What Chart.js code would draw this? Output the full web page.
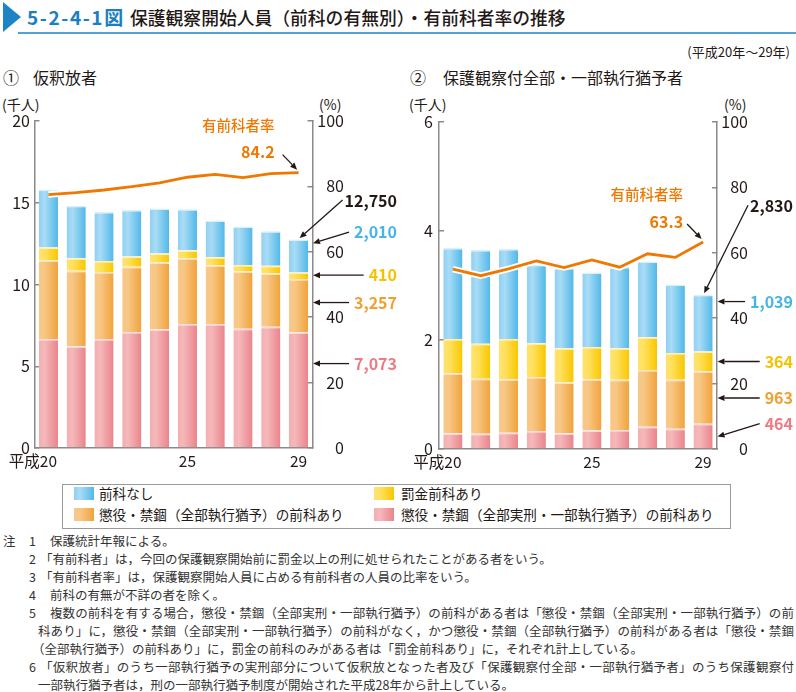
<!DOCTYPE html>
<html><head><meta charset="utf-8">
<script src="https://cdn.jsdelivr.net/npm/chart.js@4.4.1/dist/chart.umd.min.js"></script>
<style>
html,body{margin:0;padding:0;background:#fff}
body{width:796px;height:692px;position:relative;overflow:hidden;font-family:"Noto Sans CJK JP","Noto Sans",sans-serif;color:#231815}
.a{position:absolute;white-space:nowrap}
canvas{position:absolute}
.note{position:absolute;white-space:nowrap;font-size:12.5px;line-height:18px;color:#333}
.just{text-align:justify;text-align-last:justify;white-space:normal;overflow:hidden;height:18px}
.sw{position:absolute;width:20px;height:13px}
.lg{position:absolute;font-size:13.6px;line-height:18px;white-space:nowrap}
</style></head><body>

<!-- title -->
<div class="a" style="left:3px;top:2px;width:0;height:0;border-left:18px solid #1b84c6;border-top:15px solid transparent;border-bottom:15px solid transparent"></div>
<div class="a" style="left:18px;top:32px;width:778px;height:2px;background:#4fa3d6"></div>
<div class="a" style="left:27px;top:5px;font-size:19px;letter-spacing:1.6px;line-height:24px;font-weight:700;color:#1b80c2">5-2-4-1図</div>
<div class="a" style="left:130px;top:5px;font-size:17.8px;line-height:24px;font-weight:500;color:#231815">保護観察開始人員（前科の有無別）・有前科者率の推移</div>
<div class="a" style="right:6px;top:43px;font-size:13px;line-height:18px">(平成20年～29年)</div>

<!-- panel titles -->
<div class="a" style="left:3px;top:66px;font-size:16px;line-height:22px">①</div>
<div class="a" style="left:33px;top:66px;font-size:16px;line-height:22px">仮釈放者</div>
<div class="a" style="left:410px;top:66px;font-size:16px;line-height:22px">②</div>
<div class="a" style="left:443px;top:66px;font-size:16px;line-height:22px">保護観察付全部・一部執行猶予者</div>

<div class="a" style="left:2px;top:95px;font-size:14px;line-height:18px">(千人)</div>
<div class="a" style="left:319px;top:95px;font-size:14px;line-height:18px">(%)</div>
<div class="a" style="left:409px;top:95px;font-size:14px;line-height:18px">(千人)</div>
<div class="a" style="left:724px;top:95px;font-size:14px;line-height:18px">(%)</div>

<canvas id="c1" width="400" height="390" style="left:0;top:90px"></canvas>
<canvas id="c2" width="396" height="390" style="left:400px;top:91px"></canvas>

<!-- legend -->
<div class="a" style="left:62px;top:484px;width:667px;height:43px;border:1px solid #9a9a9a"></div>
<div class="sw" id="sw1" style="left:74px;top:487px"></div>
<div class="lg" style="left:99px;top:484px">前科なし</div>
<div class="sw" id="sw2" style="left:374px;top:487px"></div>
<div class="lg" style="left:401px;top:484px">罰金前科あり</div>
<div class="sw" id="sw3" style="left:74px;top:508px"></div>
<div class="lg" style="left:99px;top:505px">懲役・禁錮（全部執行猶予）の前科あり</div>
<div class="sw" id="sw4" style="left:374px;top:508px"></div>
<div class="lg" style="left:401px;top:505px">懲役・禁錮（全部実刑・一部執行猶予）の前科あり</div>

<!-- notes -->
<div class="note" style="left:3px;top:532px">注</div>
<div class="note" style="left:29px;top:532px">1</div>
<div class="note" style="left:50px;top:532px">保護統計年報による。</div>
<div class="note" style="left:29px;top:550px">2</div>
<div class="note" style="left:40px;top:550px">「有前科者」は，今回の保護観察開始前に罰金以上の刑に処せられたことがある者をいう。</div>
<div class="note" style="left:29px;top:568px">3</div>
<div class="note" style="left:40px;top:568px">「有前科者率」は，保護観察開始人員に占める有前科者の人員の比率をいう。</div>
<div class="note" style="left:29px;top:586px">4</div>
<div class="note" style="left:50px;top:586px">前科の有無が不詳の者を除く。</div>
<div class="note" style="left:29px;top:604px">5</div>
<div class="note just" style="left:50px;top:604px;width:744px">複数の前科を有する場合，懲役・禁錮（全部実刑・一部執行猶予）の前科がある者は「懲役・禁錮（全部実刑・一部執行猶予）の前</div>
<div class="note just" style="left:38px;top:622px;width:756px">科あり」に，懲役・禁錮（全部実刑・一部執行猶予）の前科がなく，かつ懲役・禁錮（全部執行猶予）の前科がある者は「懲役・禁錮</div>
<div class="note" style="left:32px;top:640px">（全部執行猶予）の前科あり」に，罰金の前科のみがある者は「罰金前科あり」に，それぞれ計上している。</div>
<div class="note" style="left:29px;top:658px">6</div>
<div class="note just" style="left:40px;top:658px;width:754px">「仮釈放者」のうち一部執行猶予の実刑部分について仮釈放となった者及び「保護観察付全部・一部執行猶予者」のうち保護観察付</div>
<div class="note" style="left:38px;top:676px">一部執行猶予者は，刑の一部執行猶予制度が開始された平成28年から計上している。</div>

<script>
// ---------- data ----------
const years = ['20','21','22','23','24','25','26','27','28','29'];
const shownTicks = [0, 5, 9];

// ① 仮釈放者 (千人)
const p1None   = [3.54, 3.21, 3.01, 2.83, 2.75, 2.51, 2.25, 2.35, 2.11, 2.010];
const p1Fine   = [0.78, 0.76, 0.67, 0.64, 0.55, 0.49, 0.50, 0.40, 0.46, 0.410];
const p1Susp   = [4.83, 4.61, 4.10, 3.99, 4.08, 4.03, 3.59, 3.51, 3.27, 3.257];
const p1Prison = [6.66, 6.23, 6.66, 7.09, 7.27, 7.58, 7.58, 7.29, 7.41, 7.073];
const p1Rate   = [77.5, 78.1, 78.9, 79.9, 81.1, 82.8, 83.7, 82.7, 83.9, 84.2];

// ② 保護観察付全部・一部執行猶予者 (千人)
const p2None   = [1.67, 1.72, 1.65, 1.44, 1.47, 1.37, 1.49, 1.39, 1.26, 1.039];
const p2Fine   = [0.63, 0.64, 0.74, 0.62, 0.63, 0.59, 0.58, 0.60, 0.49, 0.364];
const p2Susp   = [1.10, 1.01, 0.98, 0.99, 0.93, 0.94, 0.92, 1.04, 0.90, 0.963];
const p2Prison = [0.29, 0.28, 0.30, 0.33, 0.29, 0.34, 0.35, 0.41, 0.37, 0.464];
const p2Rate   = [55.0, 53.0, 55.1, 57.5, 55.5, 57.8, 55.6, 59.7, 58.6, 63.3];

// ---------- styles ----------
const FONT = '"Noto Sans CJK JP","Noto Sans",sans-serif';
const TXT = '#231815';
const AX = '#8a8a8a';
const ORANGE_LINE = '#ee7800';
const BAR_PCT = 0.69;
const BLUE_G   = [[0,'#8fd0f2'],[0.3,'#a9dcf6'],[1,'#52b8e8']];
const YELLOW_G = [[0,'#ffe270'],[0.3,'#ffe160'],[1,'#f9c700']];
const ORANGE_G = [[0,'#f8c88a'],[0.3,'#f8c785'],[1,'#f0a33c']];
const PINK_G   = [[0,'#f3aeb1'],[0.3,'#f5b8ba'],[1,'#ea848b']];
const C_BLUE = '#45b5e6', C_YEL = '#f5c200', C_OR = '#f0a030', C_PINK = '#ec7b84';

function cssGrad(stops){
  return 'linear-gradient(to right,' + stops.map(s=>s[1]+' '+(s[0]*100)+'%').join(',') + ')';
}
document.getElementById('sw1').style.background = cssGrad(BLUE_G);
document.getElementById('sw2').style.background = cssGrad(YELLOW_G);
document.getElementById('sw3').style.background = cssGrad(ORANGE_G);
document.getElementById('sw4').style.background = cssGrad(PINK_G);

function grad(stops){
  return function(ctx){
    const chart = ctx.chart, xs = chart.scales.x, ca = chart.chartArea;
    if (!ca || !xs || ctx.dataIndex == null) return stops[stops.length-1][1];
    const cw = (ca.right - ca.left) / chart.data.labels.length;
    const w = cw * BAR_PCT;
    const cx = xs.getPixelForValue(ctx.dataIndex);
    const g = chart.ctx.createLinearGradient(cx - w/2, 0, cx + w/2, 0);
    stops.forEach(s => g.addColorStop(s[0], s[1]));
    return g;
  };
}

function arrow(c, x1, y1, x2, y2){
  c.save();
  c.strokeStyle = '#231815'; c.fillStyle = '#231815'; c.lineWidth = 1.3;
  const ang = Math.atan2(y2 - y1, x2 - x1), L = 7, W = 3;
  const bx = x2 - L*Math.cos(ang), by = y2 - L*Math.sin(ang);
  c.beginPath(); c.moveTo(x1, y1); c.lineTo(bx, by); c.stroke();
  c.beginPath(); c.moveTo(x2, y2);
  c.lineTo(bx + W*Math.sin(ang), by - W*Math.cos(ang));
  c.lineTo(bx - W*Math.sin(ang), by + W*Math.cos(ang));
  c.closePath(); c.fill();
  c.restore();
}

function fmtInt(v){ return Math.round(v*1000).toLocaleString('en-US'); }

// annotation plugin: labels for the last year, tied to the data
const annPlugin = {
  id: 'ann',
  afterDraw(chart, args, o){
    const c = chart.ctx, ca = chart.chartArea;
    const xs = chart.scales.x, ys = chart.scales.y, y1 = chart.scales.y1;
    const last = chart.data.labels.length - 1;
    const X = xs.getPixelForValue(last), R = ca.right;
    c.save();
    c.textBaseline = 'middle';
    // "平成" prefix of first tick
    const items = xs.getLabelItems();
    if (items.length){
      const it = items[0];
      c.font = it.font.string; c.fillStyle = TXT;
      const w = c.measureText(it.label).width;
      c.textAlign = 'right'; c.textBaseline = it.options.textBaseline;
      c.fillText('平成', it.options.translation[0] - w/2, it.options.translation[1] + it.textOffset);
    }
    c.textBaseline = 'middle';
    // rate label
    const rate = o.rate[last];
    const py = y1.getPixelForValue(rate);
    c.textAlign = 'right'; c.fillStyle = ORANGE_LINE;
    c.font = '500 14.5px ' + FONT;
    c.fillText('有前科者率', X - o.rateDx, py - 47.5);
    c.font = 'bold 16px ' + FONT;
    c.fillText(rate.toFixed(1), X - o.rateDx, py - 20.5);
    arrow(c, X - 16, py - 18, X - 1.5, py - 3);
    // segment labels
    const segs = o.segs; // bottom->top
    let base = 0;
    const LX = R + o.labelDx;
    c.font = 'bold 16px ' + FONT;
    segs.forEach(s => {
      const v = s.data[last];
      const ty = ys.getPixelForValue(base + v * s.frac);
      const txt = fmtInt(v);
      const w = c.measureText(txt).width;
      const ly = ty + (s.dy || 0);
      c.fillStyle = s.color; c.textAlign = 'right';
      c.fillText(txt, LX, ly);
      arrow(c, LX - w - 5, ly, R + 0.5, ty);
      base += v;
    });
    // total
    const topY = ys.getPixelForValue(base);
    c.fillStyle = TXT; c.textAlign = 'right';
    c.fillText(fmtInt(base), LX, topY + o.totalDy);
    const tw = c.measureText(fmtInt(base)).width;
    arrow(c, LX - tw - 2, topY + o.totalDy - 1, X + 1, topY - 1.5);
    c.restore();
  }
};

function makeChart(id, d, opt){
  const tickFont = {family: FONT, size: 16};
  const ds = [
    {type:'line', data:d.rate, yAxisID:'y1', borderColor:ORANGE_LINE, borderWidth:2.8, pointRadius:0, tension:0, order:0},
    {type:'line', data:d.rate, yAxisID:'y1', borderColor:'#ffffff', borderWidth:6.5, pointRadius:0, tension:0, order:1},
    {type:'bar', label:'懲役・禁錮（全部実刑・一部執行猶予）の前科あり', data:d.prison, backgroundColor:grad(PINK_G), borderColor:'#fbdcdc', borderWidth:{top:1.5,left:0,right:0,bottom:0}, borderSkipped:'bottom', stack:'s', order:2},
    {type:'bar', label:'懲役・禁錮（全部執行猶予）の前科あり', data:d.susp, backgroundColor:grad(ORANGE_G), borderColor:'#fde3c2', borderWidth:{top:1.5,left:0,right:0,bottom:0}, borderSkipped:'bottom', stack:'s', order:2},
    {type:'bar', label:'罰金前科あり', data:d.fine, backgroundColor:grad(YELLOW_G), borderColor:'#fff0b8', borderWidth:{top:1.5,left:0,right:0,bottom:0}, borderSkipped:'bottom', stack:'s', order:2},
    {type:'bar', label:'前科なし', data:d.none, backgroundColor:grad(BLUE_G), borderColor:'#d6f0fc', borderWidth:{top:1.5,left:0,right:0,bottom:0}, borderSkipped:'bottom', stack:'s', order:2}
  ];
  return new Chart(document.getElementById(id), {
    data: {labels: years, datasets: ds},
    options: {
      responsive:false, animation:false, devicePixelRatio:1, events:[],
      datasets:{bar:{barPercentage:BAR_PCT, categoryPercentage:1, inflateAmount:0}},
      layout:{padding:{top:31, left:opt.padLeft, right:opt.padRight, bottom:0}},
      plugins:{legend:{display:false}, tooltip:{enabled:false}, ann:opt.ann},
      scales:{
        x:{stacked:true, offset:true,
           grid:{display:false, drawTicks:false},
           border:{display:true, color:AX, width:1.5},
           ticks:{autoSkip:false, maxRotation:0, minRotation:0, padding:4, color:TXT,
                  font:{family:FONT, size:15.5},
                  callback:(v,i)=> shownTicks.includes(i) ? years[i] : ''},
           afterFit:s=>{s.height = 32;}},
        y:{stacked:true, min:0, max:opt.ymax, position:'left',
           grid:{drawOnChartArea:false, drawTicks:true, tickLength:-5, color:AX, lineWidth:1.5},
           border:{color:AX, width:1.5},
           ticks:{stepSize:opt.step, padding:opt.leftPad, color:TXT, font:tickFont, crossAlign:'near'},
           afterFit:s=>{s.width = opt.leftW;}},
        y1:{min:0, max:100, position:'right',
           grid:{drawOnChartArea:false, drawTicks:true, tickLength:-5, color:AX, lineWidth:1.5},
           border:{color:AX, width:1.5},
           ticks:{stepSize:20, padding:4, color:TXT, font:tickFont, crossAlign:'far'},
           afterFit:s=>{s.width = opt.rightW;}}
      }
    },
    plugins:[annPlugin]
  });
}

makeChart('c1', {none:p1None, fine:p1Fine, susp:p1Susp, prison:p1Prison, rate:p1Rate}, {
  ymax:20, step:5, leftW:34.5, rightW:31.5, padLeft:0, padRight:56, leftPad:9.5,
  ann:{rate:p1Rate, rateDx:24, labelDx:84.5, totalDy:-38.5,
       segs:[{data:p1Prison, frac:0.73, color:C_PINK},
             {data:p1Susp, frac:0.56, color:C_OR},
             {data:p1Fine, frac:0.59, color:C_YEL},
             {data:p1None, frac:0.89, color:C_BLUE, dy:-11}]}
});
makeChart('c2', {none:p2None, fine:p2Fine, susp:p2Susp, prison:p2Prison, rate:p2Rate}, {
  ymax:6, step:2, leftW:39, rightW:31, padLeft:0, padRight:48, leftPad:11,
  ann:{rate:p2Rate, rateDx:20, labelDx:76, totalDy:-88.5,
       segs:[{data:p2Prison, frac:0.49, color:C_PINK, dy:-13},
             {data:p2Susp, frac:0.49, color:C_OR},
             {data:p2Fine, frac:0.49, color:C_YEL},
             {data:p2None, frac:0.88, color:C_BLUE}]}
});
</script>
</body></html>
